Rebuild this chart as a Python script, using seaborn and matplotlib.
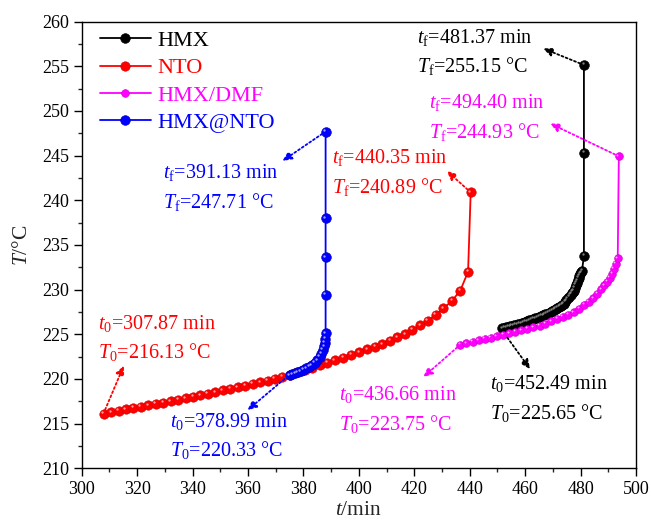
import numpy as np
import pandas as pd
import matplotlib
matplotlib.use("Agg")
import matplotlib.pyplot as plt
import matplotlib.transforms as mtransforms
import seaborn as sns

# data (t in min, T in degC)
hmx_t = [451.7, 452.4, 453.1, 453.8, 454.5, 455.2, 455.9, 456.6, 457.3, 458.0, 458.7, 459.4,
         460.1, 460.8, 461.5, 462.2, 462.9, 463.6, 464.3, 465.0, 465.7, 466.4, 467.1, 467.8,
         468.5, 469.2, 469.8, 470.4, 471.0, 471.6, 472.2, 472.8, 473.4, 473.9, 474.4, 474.9,
         475.4, 475.9, 476.4, 476.8, 477.2, 477.5, 477.9, 478.3, 478.6, 478.9, 479.3, 479.6,
         479.9, 480.2, 480.5, 481.2, 481.2, 481.2]
hmx_T = [225.65, 225.71, 225.77, 225.83, 225.89, 225.95, 226.01, 226.07, 226.13, 226.18, 226.24, 226.30,
         226.38, 226.47, 226.55, 226.63, 226.72, 226.80, 226.88, 226.97, 227.05, 227.13, 227.22, 227.30,
         227.43, 227.55, 227.66, 227.77, 227.88, 227.99, 228.09, 228.20, 228.31, 228.40, 228.61, 228.82,
         229.02, 229.23, 229.44, 229.61, 229.77, 229.90, 230.22, 230.54, 230.79, 231.03, 231.35, 231.55,
         231.74, 231.92, 232.10, 233.80, 245.30, 255.15]

nto_t = [307.9, 310.6, 313.3, 315.9, 318.6, 321.3, 324.0, 326.7, 329.4, 332.1, 334.8, 337.5,
         340.2, 342.8, 345.5, 348.2, 350.9, 353.6, 356.3, 359.0, 361.7, 364.4, 367.1, 369.7,
         372.4, 375.1, 377.8, 380.5, 383.2, 385.9, 388.6, 391.3, 394.3, 397.2, 400.1, 403.0,
         405.8, 408.4, 411.2, 413.9, 416.7, 419.3, 422.1, 424.9, 427.7, 430.5, 433.6, 436.6,
         439.4, 440.35]
nto_T = [216.13, 216.28, 216.44, 216.59, 216.74, 216.90, 217.05, 217.21, 217.36, 217.52, 217.67, 217.82,
         217.98, 218.16, 218.34, 218.52, 218.71, 218.89, 219.08, 219.26, 219.45, 219.63, 219.81, 220.00,
         220.22, 220.47, 220.73, 221.00, 221.27, 221.55, 221.83, 222.10, 222.40, 222.70, 223.00, 223.30,
         223.60, 223.90, 224.30, 224.65, 225.00, 225.50, 226.00, 226.50, 227.20, 227.90, 228.75, 229.90,
         232.00, 240.89]

dmf_t = [436.6, 438.8, 441.0, 443.2, 445.4, 447.6, 449.8, 452.0, 454.2, 456.4, 458.6, 460.8,
         463.0, 465.2, 467.3, 469.4, 471.5, 473.5, 475.5, 477.5, 479.4, 481.2, 482.9, 484.5,
         486.0, 487.4, 488.6, 489.6, 490.5, 491.3, 492.0, 492.7, 493.4, 493.8]
dmf_T = [223.84, 224.00, 224.16, 224.32, 224.47, 224.63, 224.79, 224.95, 225.12, 225.28, 225.45, 225.61,
         225.78, 225.95, 226.20, 226.45, 226.71, 226.96, 227.20, 227.45, 227.88, 228.29, 228.67, 229.03,
         229.55, 230.05, 230.48, 230.85, 231.30, 231.80, 232.35, 232.90, 233.50, 244.93]

hn_t = [375.0, 376.0, 377.0, 378.0, 379.0, 380.0, 381.0, 382.0, 383.0, 384.0, 385.0, 385.8,
        386.5, 387.0, 387.4, 387.7, 387.9, 388.0, 388.0, 388.0, 388.0, 388.0]
hn_T = [220.40, 220.50, 220.62, 220.75, 220.88, 221.02, 221.18, 221.35, 221.55, 221.80, 222.10, 222.45,
        222.85, 223.25, 223.65, 224.05, 224.50, 225.10, 229.40, 233.60, 238.00, 247.70]

names = ["HMX", "NTO", "HMX/DMF", "HMX@NTO"]
colors = ["#000000", "#ff0000", "#ff00ff", "#0000ff"]
edges = ["#000000", "#c80000", "#c800c8", "#0000b8"]
shines = ["#8c8c8c", "#ffb4b4", "#ffc4ff", "#b4b4ff"]
msizes = [7.0, 6.8, 5.6, 7.0]

# annotations: text, left x, centre y, arrow tail, arrow head, colour index
notes = [
    (r"$t_{\mathrm{f}}$=481.37 min" + "\n" + r"$T_{\mathrm{f}}$=255.15 °C", 421.0, 256.6, (481.2, 255.15), (466.5, 257.0), 0),
    (r"$t_{\mathrm{f}}$=494.40 min" + "\n" + r"$T_{\mathrm{f}}$=244.93 °C", 425.3, 249.3, (493.8, 244.93), (469.0, 248.6), 2),
    (r"$t_{\mathrm{f}}$=440.35 min" + "\n" + r"$T_{\mathrm{f}}$=240.89 °C", 390.3, 243.15, (440.35, 240.89), (431.7, 243.3), 1),
    (r"$t_{\mathrm{f}}$=391.13 min" + "\n" + r"$T_{\mathrm{f}}$=247.71 °C", 329.5, 241.4, (388.0, 247.7), (372.4, 244.4), 3),
    (r"$t_0$=307.87 min" + "\n" + r"$T_0$=216.13 °C", 306.0, 224.6, (307.87, 216.13), (315.2, 221.5), 1),
    (r"$t_0$=378.99 min" + "\n" + r"$T_0$=220.33 °C", 332.0, 213.6, (374.3, 220.3), (359.8, 216.5), 3),
    (r"$t_0$=436.66 min" + "\n" + r"$T_0$=223.75 °C", 393.0, 216.55, (436.6, 223.84), (423.2, 220.2), 2),
    (r"$t_0$=452.49 min" + "\n" + r"$T_0$=225.65 °C", 447.3, 217.8, (452.7, 225.0), (461.8, 221.1), 0),
]

sns.set_style("ticks")
plt.rcParams["font.family"] = ["Liberation Serif", "DejaVu Serif"]
plt.rcParams["mathtext.fontset"] = "custom"
plt.rcParams["mathtext.rm"] = "Liberation Serif"
plt.rcParams["mathtext.it"] = "Liberation Serif:italic"

fig = plt.figure(figsize=(6.51, 5.22), dpi=100)
ax = fig.add_axes([0.1255, 0.1029, 0.8515, 0.8556])

series = [(hmx_t, hmx_T), (nto_t, nto_T), (dmf_t, dmf_T), (hn_t, hn_T)]
shine_tr = mtransforms.offset_copy(ax.transData, fig=fig, x=-1.4, y=1.6, units="dots")
for i, (tt, TT) in enumerate(series):
    df = pd.DataFrame({"t": tt, "T": TT})
    sns.lineplot(data=df, x="t", y="T", estimator=None, sort=False, ax=ax,
                 color=colors[i], lw=1.3, marker="o", markersize=msizes[i],
                 markerfacecolor=colors[i], markeredgecolor=edges[i], markeredgewidth=0.4,
                 label=names[i])
    ax.plot(tt, TT, ls="none", marker="o", markersize=msizes[i] * 0.24,
            markerfacecolor=shines[i], markeredgewidth=0, alpha=0.9, transform=shine_tr)

for txt, x0, y0, tail, head, ci in notes:
    ax.text(x0, y0, txt, color=colors[ci], fontsize=14.5, ha="left", va="center",
            linespacing=1.45)
    ax.annotate("", xy=head, xytext=tail,
                arrowprops=dict(arrowstyle="-|>,head_length=0.55,head_width=0.25",
                                color=colors[ci], lw=1.3, linestyle=(0, (1.1, 1.4)),
                                shrinkA=3, shrinkB=0))

ax.set_xlim(300, 500)
ax.set_ylim(210, 260)
ax.set_xticks(np.arange(300, 501, 20))
ax.set_xticks(np.arange(300, 501, 10), minor=True)
ax.set_yticks(np.arange(210, 261, 5))
ax.set_yticks(np.arange(210, 261, 2.5), minor=True)
ax.tick_params(which="major", direction="out", length=5.5, width=1, labelsize=13, colors="#000000")
ax.tick_params(which="minor", direction="out", length=3, width=1)
ax.tick_params(top=False, right=False)
for s in ax.spines.values():
    s.set_visible(True)
    s.set_linewidth(1.0)
    s.set_color("#000000")
ax.set_xlabel(r"$t$/min", fontsize=15.5, labelpad=2)
ax.set_ylabel(r"$T$/°C", fontsize=15.5, labelpad=7)

h, l = ax.get_legend_handles_labels()
leg = ax.legend(h[:4], l[:4], loc="upper left", bbox_to_anchor=(0.0126, 1.005),
                frameon=False, fontsize=16,
                handlelength=2.3, handletextpad=0.3, labelspacing=0.3,
                borderaxespad=0.3, borderpad=0.2)
for text, c in zip(leg.get_texts(), colors):
    text.set_color(c)

fig.savefig("out.png", dpi=100)
